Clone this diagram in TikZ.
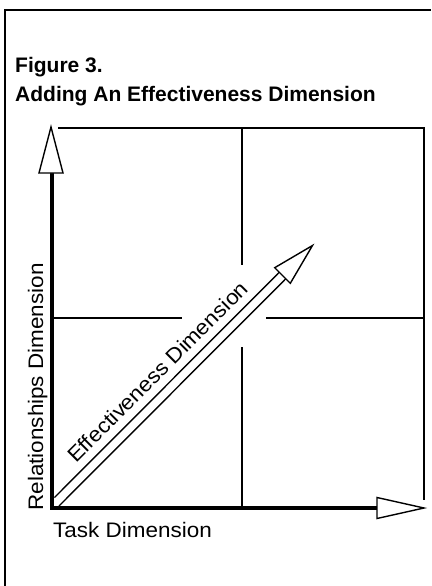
\documentclass[tikz,border=0pt]{standalone}
\usepackage{fontspec}
\setmainfont{Liberation Sans}
\newfontfamily\labelfont[FakeStretch=1.07]{Liberation Sans}
\begin{document}
\begin{tikzpicture}[x=1pt,y=-1pt,
  frameline/.style={line width=1.3pt},
  gridline/.style={line width=1.2pt},
  axisline/.style={line width=4pt, line join=miter},
  headshape/.style={line width=1.4pt, fill=white, line join=miter},
  shaftline/.style={line width=1.4pt},
  titletext/.style={anchor=base west, inner sep=0pt, font=\rmfamily\bfseries\fontsize{21}{25}\selectfont},
  axislabel/.style={anchor=base, inner sep=0pt, font=\labelfont\fontsize{21}{25}\selectfont}]
\useasboundingbox (0,0) rectangle (431,586);

% outer frame (top and left edges)
\coordinate (frameBL) at (5,586);
\coordinate (frameTL) at (5,10);
\coordinate (frameTR) at (431,10);
\draw[frameline] (frameBL) -- (frameTL) -- (frameTR);

% title
\node[titletext] (fig) at (15,73) {Figure 3.};
\node[titletext] (title) at (15,101) {Adding An Effectiveness Dimension};

% quadrant grid
\coordinate (gTL) at (58,128);
\coordinate (gTR) at (424,128);
\coordinate (gBR) at (424,500);
\draw[gridline] (gTL) -- (gTR) -- (gBR);
\coordinate (vTop) at (242,128);
\coordinate (vGapA) at (242,265);
\coordinate (vGapB) at (242,347);
\coordinate (vBot) at (242,508);
\draw[gridline] (vTop) -- (vGapA);
\draw[gridline] (vGapB) -- (vBot);
\coordinate (hLeft) at (53,318);
\coordinate (hGapA) at (182,318);
\coordinate (hGapB) at (266,318);
\coordinate (hRight) at (424,318);
\draw[gridline] (hLeft) -- (hGapA);
\draw[gridline] (hGapB) -- (hRight);

% axes
\coordinate (O) at (52,508);
\coordinate (yBase) at (52,173);
\coordinate (xBase) at (377,508);
\draw[axisline] (yBase) -- (O) -- (xBase);
% vertical arrowhead
\coordinate (yTip) at (51,127);
\coordinate (yL) at (39,173);
\coordinate (yR) at (63,173);
\draw[headshape] (yTip) -- (yR) -- (yL) -- cycle;
% horizontal arrowhead
\coordinate (xTip) at (424,508);
\coordinate (xU) at (377,497.5);
\coordinate (xD) at (377,518.5);
\draw[headshape] (xTip) -- (xD) -- (xU) -- cycle;

% hollow diagonal arrow
\coordinate (sU0) at (54.5,497.5);
\coordinate (sU1) at (279.25,272.25);
\coordinate (sD0) at (59,506);
\coordinate (sD1) at (285.75,278.75);
\draw[shaftline] (sU0) -- (sU1);
\draw[shaftline] (sD0) -- (sD1);
\coordinate (dTip) at (312.5,245.5);
\coordinate (dU) at (274.7,267.7);
\coordinate (dD) at (290.3,283.3);
\draw[headshape] (dTip) -- (dD) -- (dU) -- cycle;

% axis labels
\node[axislabel, rotate=90] (rel) at (43,387) {Relationships Dimension};
\node[axislabel, anchor=base west] (task) at (53,537) {Task Dimension};
\node[axislabel, rotate=45] (eff) at (163,377) {Effectiveness Dimension};
\end{tikzpicture}
\end{document}
